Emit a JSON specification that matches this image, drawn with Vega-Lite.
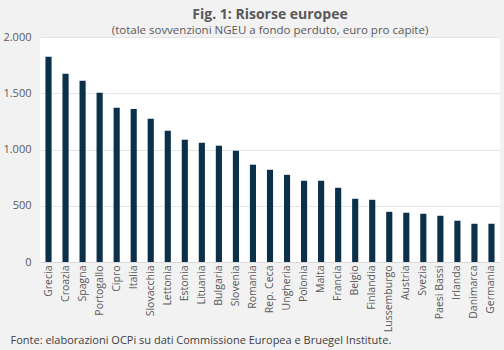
{
  "$schema": "https://vega.github.io/schema/vega-lite/v6.json",
  "autosize": {"type": "none"},
  "width": 460,
  "height": 225,
  "padding": {"left": 40, "top": 37, "right": 4, "bottom": 88},
  "background": "#f2f2f2",
  "config": {
    "view": {"fill": "#ffffff", "stroke": null},
    "font": "Open Sans"
  },
  "title": {
    "text": "Fig. 1: Risorse europee",
    "subtitle": "(totale sovvenzioni NGEU a fondo perduto, euro pro capite)",
    "anchor": "middle",
    "fontSize": 14,
    "fontWeight": "bold",
    "color": "#595959",
    "subtitleFontSize": 11.5,
    "subtitleColor": "#595959",
    "subtitlePadding": 3,
    "offset": -5
  },
  "data": {
    "values": [
      {"paese": "Grecia", "valore": 1825},
      {"paese": "Croazia", "valore": 1674},
      {"paese": "Spagna", "valore": 1612},
      {"paese": "Portogallo", "valore": 1505},
      {"paese": "Cipro", "valore": 1372},
      {"paese": "Italia", "valore": 1360},
      {"paese": "Slovacchia", "valore": 1274},
      {"paese": "Lettonia", "valore": 1167},
      {"paese": "Estonia", "valore": 1087},
      {"paese": "Lituania", "valore": 1060},
      {"paese": "Bulgaria", "valore": 1034},
      {"paese": "Slovenia", "valore": 989},
      {"paese": "Romania", "valore": 865},
      {"paese": "Rep. Ceca", "valore": 820},
      {"paese": "Ungheria", "valore": 775},
      {"paese": "Polonia", "valore": 722},
      {"paese": "Malta", "valore": 722},
      {"paese": "Francia", "valore": 660},
      {"paese": "Belgio", "valore": 562},
      {"paese": "Finlandia", "valore": 553},
      {"paese": "Lussemburgo", "valore": 446},
      {"paese": "Austria", "valore": 438},
      {"paese": "Svezia", "valore": 429},
      {"paese": "Paesi Bassi", "valore": 411},
      {"paese": "Irlanda", "valore": 367},
      {"paese": "Danimarca", "valore": 340},
      {"paese": "Germania", "valore": 340}
    ]
  },
  "mark": {"type": "bar", "color": "#0b3049"},
  "encoding": {
    "x": {
      "field": "paese",
      "type": "nominal",
      "sort": null,
      "scale": {"paddingInner": 0.64, "paddingOuter": 0.32},
      "axis": {
        "title": "Fonte: elaborazioni OCPi su dati Commissione Europea e Bruegel Institute.",
        "titleFontSize": 11,
        "titleFontWeight": "normal",
        "titleColor": "#404040",
        "titleAnchor": "start",
        "titleAlign": "left",
        "titleBaseline": "alphabetic",
        "titleX": -30,
        "titleY": 81,
        "labelAngle": -90,
        "labelFontSize": 10.5,
        "labelColor": "#595959",
        "labelPadding": 3,
        "ticks": false,
        "domainColor": "#d9d9d9",
        "grid": false
      }
    },
    "y": {
      "field": "valore",
      "type": "quantitative",
      "scale": {"domain": [0, 2000]},
      "axis": {
        "title": null,
        "values": [0, 500, 1000, 1500, 2000],
        "format": ",.0f",
        "labelExpr": "replace(datum.label, ',', '.')",
        "labelFontSize": 11,
        "labelColor": "#595959",
        "labelPadding": 9,
        "ticks": false,
        "domain": false,
        "gridColor": "#e6e6e6"
      }
    }
  }
}
